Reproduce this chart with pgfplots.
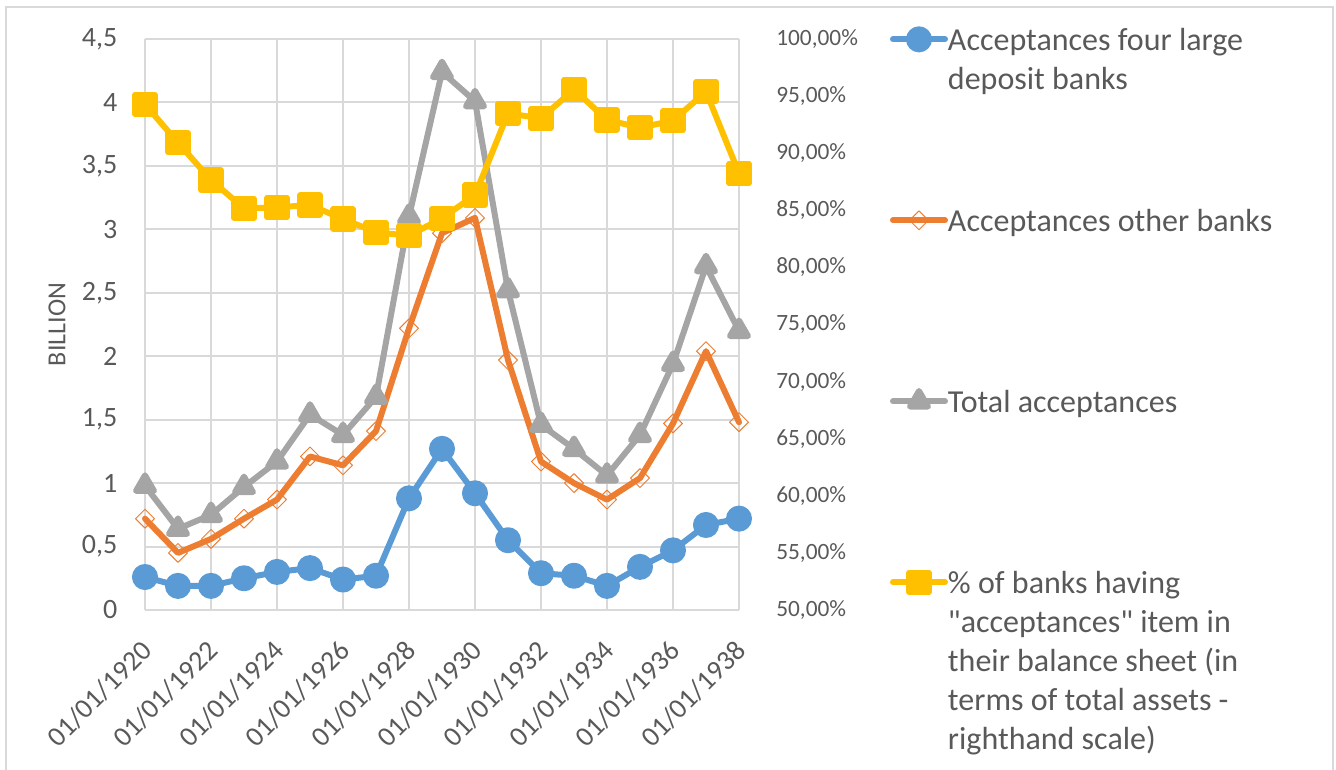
\documentclass[border=0pt]{standalone}
\usepackage{pgfplots}
\usepackage{pgfplotstable}
\pgfplotsset{compat=1.18}
\usepackage{fontspec}
\setmainfont{Carlito}
\newfontfamily\plainfont{Carlito}

\definecolor{sblue}{HTML}{5B9BD5}
\definecolor{sorange}{HTML}{ED7D31}
\definecolor{sgray}{HTML}{A5A5A5}
\definecolor{syellow}{HTML}{FFC000}
\definecolor{txt}{HTML}{595959}
\definecolor{gridc}{HTML}{D9D9D9}

% billion (left scale) and percent of banks (right scale)
\pgfplotstableread{
year four other total pct
1920 0.26 0.72 0.98 94.28
1921 0.19 0.45 0.64 90.92
1922 0.19 0.56 0.75 87.65
1923 0.25 0.72 0.97 85.17
1924 0.30 0.87 1.17 85.26
1925 0.33 1.21 1.54 85.46
1926 0.24 1.14 1.38 84.24
1927 0.27 1.41 1.68 83.07
1928 0.88 2.22 3.10 82.78
1929 1.27 2.97 4.24 84.30
1930 0.92 3.09 4.01 86.34
1931 0.55 1.97 2.52 93.49
1932 0.29 1.17 1.46 93.05
1933 0.27 1.00 1.27 95.59
1934 0.19 0.87 1.06 92.91
1935 0.34 1.04 1.38 92.24
1936 0.47 1.47 1.94 92.85
1937 0.67 2.04 2.71 95.39
1938 0.72 1.48 2.20 88.24
}\acctable

\pgfplotsset{
  base/.style={
    scale only axis, width=445.5pt, height=428.25pt,
    at={(108.75pt,119.25pt)}, anchor=south west,
    xmin=1920, xmax=1938, clip=false,
    major tick length=0pt,
    axis line style={draw=none},
    /pgf/number format/assume math mode=true,
    tick label style={text=txt},
  },
  ser/.style={line width=4.5pt, line cap=round, line join=round},
}
\newcommand{\legtext}[1]{\parbox[t][135.75pt][t]{320pt}{\rule{0pt}{20pt}#1}}

\begin{document}
\begin{tikzpicture}
\begin{axis}[base,
  ymin=0, ymax=4.5,
  ytick={0,0.5,...,4.5},
  xtick={1920,1922,...,1938},
  xticklabels={01/01/1920,01/01/1922,01/01/1924,01/01/1926,01/01/1928,
    01/01/1930,01/01/1932,01/01/1934,01/01/1936,01/01/1938},
  grid=major, grid style={gridc, line width=1.5pt},
  yticklabel style={/pgf/number format/use comma, anchor=east, inner sep=0pt,
    xshift=-20.6pt, font=\fontsize{21pt}{25pt}\selectfont},
  xticklabel style={xshift=-3.75pt, yshift=-21.4pt, rotate=45, anchor=north east,
    inner sep=0pt, font=\fontsize{21pt}{25pt}\selectfont},
  ylabel={BILLION},
  ylabel style={at={(axis description cs:-0.148,0.5)}, anchor=center,
    text=txt, font=\fontsize{19.5pt}{23pt}\selectfont},
]
\addplot[ser, sblue, mark=*, mark size=7.5pt, mark options={solid}]
  table[x=year, y=four] {\acctable};
\addplot[ser, sorange, mark=square, mark size=5pt,
  mark options={solid, rotate=45, fill=white, line width=0.75pt}]
  table[x=year, y=other] {\acctable};
\addplot[ser, sgray, mark=triangle*, mark size=7.75pt, mark options={solid}]
  table[x=year, y=total] {\acctable};
\end{axis}

\begin{axis}[base,
  axis x line=none, axis y line*=right,
  ymin=50, ymax=100,
  ytick={50,55,...,100},
  yticklabel={\pgfmathprintnumber[fixed,fixed zerofill,precision=2,use comma]{\tick}\%},
  yticklabel style={anchor=west, inner sep=0pt, xshift=27.75pt,
    font=\fontsize{17.5pt}{21pt}\selectfont},
  legend style={at={(1.2542,1.02744)}, anchor=north west, draw=none, fill=none,
    inner sep=0pt, outer sep=0pt, text=txt,
    font=\fontsize{24pt}{29.25pt}\selectfont,
    cells={anchor=base west}, nodes={inner sep=0pt, text depth=},
    row sep=0pt, column sep=0pt},
  legend image code/.code={
    \draw[mark repeat=2, mark phase=2] plot coordinates {(0pt,8pt) (19.5pt,8pt) (39pt,8pt)};},
]
\addlegendimage{ser, sblue, mark=*, mark size=7.5pt, mark options={solid}}
\addlegendentry{\legtext{Acceptances four large\\deposit banks}}
\addlegendimage{ser, sorange, mark=square, mark size=5pt,
  mark options={solid, rotate=45, fill=white, line width=0.75pt}}
\addlegendentry{\legtext{Acceptances other banks}}
\addlegendimage{ser, sgray, mark=triangle*, mark size=7.75pt, mark options={solid}}
\addlegendentry{\legtext{Total acceptances}}
\addplot[ser, syellow, mark=square*, mark size=7.25pt, mark options={solid}]
  table[x=year, y=pct] {\acctable};
\addlegendentry{\legtext{\% of banks having\\{\plainfont "}acceptances{\plainfont "} item in\\their balance sheet (in\\terms of total assets -\\righthand scale)}}
\end{axis}

\draw[gridc, line width=1.5pt] (4.5pt,-5pt) rectangle (999.75pt,571.5pt);
\pgfresetboundingbox
\useasboundingbox (0,0) rectangle (1002pt,576.75pt);
\end{tikzpicture}
\end{document}
